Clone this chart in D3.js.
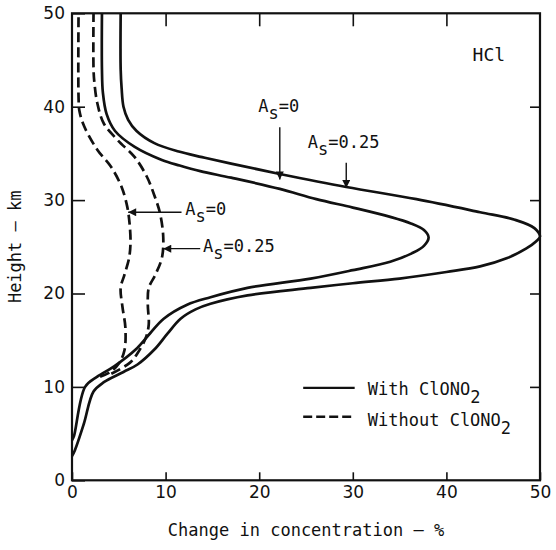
<!DOCTYPE html>
<html>
<head>
<meta charset="utf-8">
<script src="https://cdn.jsdelivr.net/npm/d3@7"></script>
<style>
  body { margin: 0; background: #fff; }
  text { font-family: "DejaVu Sans Mono", "Liberation Mono", monospace; fill: #111; }
</style>
</head>
<body>
<script>
// ---- data (change in concentration %, height km) ----
const xTicks = [0, 10, 20, 30, 40, 50];
const yTicks = [0, 10, 20, 30, 40, 50];

// With ClONO2, As = 0.25
const withAs025Pct = [0, 0.3, 1.25, 2.3, 3.4, 5.5, 7, 8.8, 10.2, 11.6, 13.2, 14.8, 18.75, 25.5, 30, 35, 40, 43.6, 46.5, 48.5, 49.6, 50, 49.4, 47.3, 43.6, 36.8, 29.3, 22.2, 17, 13.9, 11.4, 8.8, 6.9, 6.0, 5.5, 5.3, 5.2, 5.2];
const withAs025Km  = [2.6, 3.2, 6, 9.5, 10.5, 11.6, 12.4, 14, 15.7, 17.3, 18.3, 18.9, 19.8, 20.6, 21.1, 21.6, 22.3, 22.9, 23.8, 24.8, 25.6, 26.1, 27, 27.9, 28.7, 30.1, 31.4, 32.8, 33.9, 34.6, 35.2, 36.1, 37.4, 38.6, 40, 42, 44, 50];

// With ClONO2, As = 0
const withAs0Pct = [0, 0.2, 1.4, 2.7, 4.5, 6.8, 8.4, 9.8, 12.3, 14.8, 18.75, 25.5, 30, 34, 36.3, 37.6, 38.1, 37.6, 36.2, 34, 30, 26.1, 22.2, 17, 13.7, 11.5, 9.6, 6.7, 4.6, 3.7, 3.3, 3.2, 3.2];
const withAs0Km  = [4.3, 4.7, 10, 11.1, 12.2, 14, 15.8, 17.3, 18.8, 19.6, 20.6, 21.6, 22.5, 23.4, 24.3, 25.1, 26, 26.8, 27.5, 28.2, 29.2, 30.1, 31.2, 32.4, 33.1, 33.7, 34.3, 35.7, 37.4, 39.2, 41.5, 44, 50];

// Without ClONO2, As = 0
const withoutAs0Pct = [3.0, 4.1, 5.0, 5.6, 5.7, 5.4, 5.2, 5.6, 6.1, 6.25, 6.15, 5.9, 5.3, 4.15, 2.7, 1.3, 0.8, 0.7, 0.7];
const withoutAs0Km  = [11.1, 11.6, 12.5, 13.9, 16.4, 18.5, 20.6, 22, 23.8, 25.5, 27.5, 29.3, 31.4, 33.6, 35.4, 37.9, 39.5, 41, 50];

// Without ClONO2, As = 0.25
const withoutAs025Pct = [4.2, 6.2, 7, 7.9, 8.2, 8.1, 8.2, 8.9, 9.6, 9.75, 9.4, 8.8, 8.0, 6.7, 4.9, 3.4, 2.7, 2.4, 2.3, 2.3];
const withoutAs025Km  = [11.4, 12.6, 13.6, 15.3, 16.7, 18.8, 20.6, 22, 23.8, 26, 28.6, 30.5, 32.5, 34.6, 36.4, 38.2, 40.4, 42.5, 44, 50];

// annotation labels
const seriesLabels = ["With ClONO", "Without ClONO"];
const asLabels = ["0", "0.25"];

// ---- layout ----
const W = 556, H = 550;
const svg = d3.select("body").append("svg").attr("width", W).attr("height", H);

const x = d3.scaleLinear().domain([0, 50]).range([72, 540]);
const y = d3.scaleLinear().domain([0, 50]).range([480.3, 13.3]);

const defs = svg.append("defs");
defs.append("marker").attr("id", "ah")
  .attr("viewBox", "0 0 10 10").attr("refX", 10).attr("refY", 5)
  .attr("markerWidth", 9).attr("markerHeight", 8)
  .attr("markerUnits", "userSpaceOnUse").attr("orient", "auto")
  .append("path").attr("d", "M0,0 L10,5 L0,10 Z").attr("fill", "#111");

// axes (inward ticks)
const gB = svg.append("g").attr("transform", `translate(0,${y(0)})`)
  .call(d3.axisBottom(x).tickValues(xTicks).tickSizeInner(-8).tickSizeOuter(0).tickPadding(6));
const gL = svg.append("g").attr("transform", `translate(${x(0)},0)`)
  .call(d3.axisLeft(y).tickValues(yTicks).tickSizeInner(-13).tickSizeOuter(0).tickPadding(7));
const gT = svg.append("g").attr("transform", `translate(0,${y(50)})`)
  .call(d3.axisTop(x).tickValues(xTicks.slice(1, -1)).tickSizeInner(-13).tickSizeOuter(0).tickFormat(""));
const gR = svg.append("g").attr("transform", `translate(${x(50)},0)`)
  .call(d3.axisRight(y).tickValues(yTicks.slice(1, -1)).tickSizeInner(-10).tickSizeOuter(0).tickFormat(""));
[gB, gL, gT, gR].forEach(g => {
  g.select(".domain").remove();
  g.selectAll(".tick line").attr("stroke", "#111").attr("stroke-width", 1.6);
  g.selectAll(".tick text").style("font-size", "17px").style("font-family", "'DejaVu Sans', sans-serif").attr("fill", "#111");
});

svg.append("rect")
  .attr("x", x(0)).attr("y", y(50))
  .attr("width", x(50) - x(0)).attr("height", y(0) - y(50))
  .attr("fill", "none").attr("stroke", "#111").attr("stroke-width", 2.2);

// axis titles
svg.append("text").attr("x", (x(0) + x(50)) / 2).attr("y", 536)
  .attr("text-anchor", "middle").style("font-size", "17px")
  .text("Change in concentration \u2014 %");
svg.append("text").attr("transform", `translate(21,${(y(0) + y(50)) / 2}) rotate(-90)`)
  .attr("text-anchor", "middle").style("font-size", "17px")
  .text("Height \u2014 km");

// curves
const line = d3.line().x(d => x(d[0])).y(d => y(d[1])).curve(d3.curveCatmullRom.alpha(0.5));
const zip = (a, b) => a.map((v, i) => [v, b[i]]);
const curves = [
  { pts: zip(withAs025Pct, withAs025Km), dash: null },
  { pts: zip(withAs0Pct, withAs0Km), dash: null },
  { pts: zip(withoutAs0Pct, withoutAs0Km), dash: "10,5" },
  { pts: zip(withoutAs025Pct, withoutAs025Km), dash: "10,5" }
];
svg.append("g").selectAll("path").data(curves).join("path")
  .attr("d", d => line(d.pts))
  .attr("fill", "none").attr("stroke", "#111").attr("stroke-width", 2.7)
  .attr("stroke-dasharray", d => d.dash);

// As labels with arrows
function asLabel(px, py, val) {
  const t = svg.append("text").attr("x", px).attr("y", py).style("font-size", "17px");
  t.append("tspan").text("A");
  t.append("tspan").attr("dy", 7).text("s");
  t.append("tspan").attr("dy", -7).text("=" + val);
}
function arrow(x1, y1, x2, y2) {
  svg.append("line").attr("x1", x(x1)).attr("y1", y(y1)).attr("x2", x(x2)).attr("y2", y(y2))
    .attr("stroke", "#111").attr("stroke-width", 1.4).attr("marker-end", "url(#ah)");
}
// with ClONO2
asLabel(x(19.9), y(39.4), asLabels[0]);
arrow(22.2, 37.8, 22.2, 32.2);
asLabel(x(25.2), y(35.6), asLabels[1]);
arrow(29.3, 34.0, 29.3, 31.3);
// without ClONO2
asLabel(x(12.1), y(28.4), asLabels[0]);
arrow(11.7, 28.7, 6.0, 28.7);
asLabel(x(14.0), y(24.4), asLabels[1]);
arrow(13.7, 24.8, 9.75, 24.8);

// HCl label
svg.append("text").attr("x", x(42.8)).attr("y", y(44.9)).style("font-size", "18px").text("HCl");

// legend
const legend = [
  { label: seriesLabels[0], dash: null, ly: 9.9, ty: 9.1 },
  { label: seriesLabels[1], dash: "9,4", ly: 6.8, ty: 5.8 }
];
legend.forEach(d => {
  svg.append("line").attr("x1", x(24.7)).attr("x2", x(30.2)).attr("y1", y(d.ly)).attr("y2", y(d.ly))
    .attr("stroke", "#111").attr("stroke-width", 2.4).attr("stroke-dasharray", d.dash);
  const t = svg.append("text").attr("x", x(31.6)).attr("y", y(d.ty)).style("font-size", "17px");
  t.append("tspan").text(d.label);
  t.append("tspan").attr("dy", 8).text("2");
});
</script>
</body>
</html>
